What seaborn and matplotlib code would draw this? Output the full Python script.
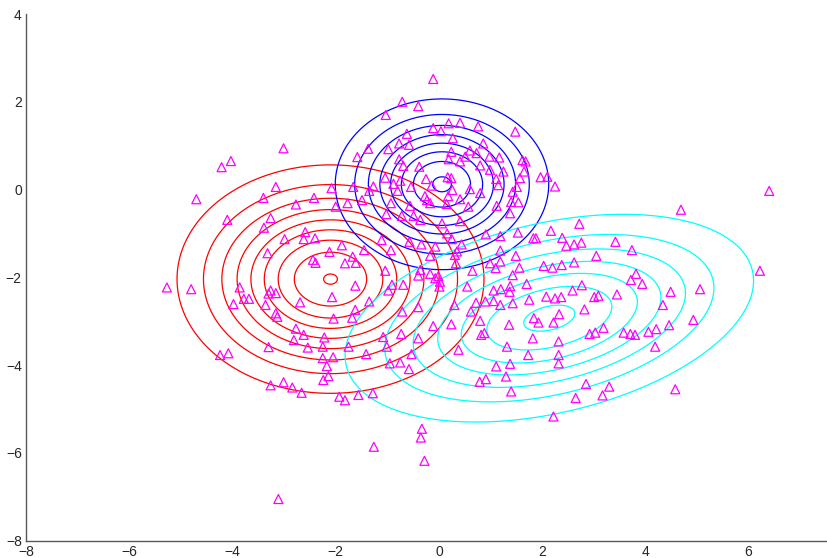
import numpy as np
import pandas as pd
import matplotlib
matplotlib.use("Agg")
import matplotlib.pyplot as plt
import seaborn as sns

# Observed samples
pts_x = [
    -3.01, -4.03, -4.21, -1.58, -3.16, -2.08, -1.66, -4.70, -3.40, -2.42, -2.77, -1.77, -2.00,
    -4.10, -3.26, -3.39, -2.59, -2.99, -2.62, -2.40, -1.88, -3.32, -2.12, -2.44, -2.39, -1.82,
    -1.67, -1.61, -5.27, -4.80, -3.86, -3.98, -3.78, -3.68, -3.26, -3.16, -3.30, -3.36, -2.69,
    -2.07, -1.62, -1.62, -1.68, -3.16, -3.13, -2.04, -2.77, -2.62, -2.81, -2.22, -1.75, -3.30,
    -2.54, -2.25,
    -4.24, -4.08, -2.25, -2.05, -2.17, -2.14, -2.24, -3.26, -3.01, -2.84, -2.66, -1.93, -1.82,
    -1.56, -3.11,
    -0.11, -0.71, -0.40, -1.03, 0.19, 0.41, 0.76, 1.48, -0.11, 0.04, -0.62, 0.27, -0.77, -0.58,
    0.86, -1.37, -0.98, 0.24, 0.60, 0.73, 0.19, 0.51, 0.98, 1.17, -0.77, 0.41, -0.69, -0.38,
    0.80, 0.99, 1.62, 1.68, 1.25, 1.65, 1.57, -1.04, -0.25, 0.17, 0.24, 1.11, 1.97, 2.10, 2.25,
    -1.27, -0.88, -0.75, -0.54, -0.14, 1.15, 1.51, 0.60, 0.26, -0.80, 0.80, 1.43, -1.35, -1.49,
    -0.27, -0.23, 0.18, 0.41, -0.93, -0.17, 0.15, 1.40, 1.54, 1.12, 0.57, -0.56,
    1.38, -1.02, -0.72, -0.49, -0.36, 0.06, 0.41, 0.16, 0.25, -1.11, -0.57, -0.34, -0.07, 0.44,
    -1.45, -0.93, 0.35, 0.91, 1.19, 1.53, 1.83, 1.88, 2.17, 1.19, 1.49, -0.17, 0.31, 0.99, 1.19,
    1.10, 1.56, 2.03, 2.20, 0.33, -1.04, -0.36, -0.40, -0.17, -0.07, -0.01, 0.02, 0.01, 0.65,
    1.43, -0.91, -0.69, -0.98, 0.55, 1.70, 1.06, 1.20, 1.38, 1.37, -1.35, -0.40, 0.30, 0.72,
    0.90, 1.06, 1.19, 1.43, 1.75, 2.08, 2.25, -0.71, 0.62, 0.80, 1.84, 1.93, 2.22, -0.11, 0.24,
    1.36, -1.08, -0.73, -0.40, 0.82, 0.88, 1.82, -1.01, 1.32, 2.32,
    -1.41, -0.53, -0.95, -0.75, -0.58, 0.38, 1.73, 2.32, 2.32, 1.11, 1.38, 1.30, 0.79, 0.91,
    1.40, -1.28, 2.22, -0.33, -0.35, -1.26, -0.28,
    4.19, 2.85, 3.30, 2.65, 3.17, 4.58,
    4.69, 2.72, 2.39, 2.47, 2.62, 2.76, 3.42, 3.74, 3.05, 2.38, 2.62, 3.82, 3.72, 3.94, 6.22,
    2.77, 2.59, 2.37, 3.01, 3.09, 3.45, 4.49, 5.06, 4.34, 2.82, 2.33, 4.93, 4.46, 3.19, 2.92,
    3.03, 3.58, 3.71, 3.80, 4.06, 4.21,
    6.40,
]
pts_y = [
    0.94, 0.65, 0.51, 0.74, 0.06, 0.03, 0.06, -0.22, -0.19, -0.19, -0.34, -0.31, -0.39,
    -0.69, -0.65, -0.87, -0.97, -1.13, -1.13, -1.11, -1.27, -1.45, -1.42, -1.60, -1.67, -1.68,
    -1.53, -1.67, -2.23, -2.27, -2.23, -2.61, -2.49, -2.49, -2.30, -2.36, -2.37, -2.63, -2.57,
    -2.45, -2.19, -2.74, -2.92, -2.82, -2.90, -2.94, -3.17, -3.31, -3.43, -3.37, -3.58, -3.59,
    -3.60, -3.58,
    -3.77, -3.73, -3.84, -3.82, -4.02, -4.25, -4.34, -4.46, -4.39, -4.51, -4.63, -4.72, -4.80,
    -4.68, -7.05,
    2.52, 2.00, 1.90, 1.70, 1.51, 1.52, 1.44, 1.32, 1.40, 1.33, 1.27, 1.17, 1.05, 1.02,
    1.05, 0.93, 0.92, 0.86, 0.89, 0.83, 0.69, 0.75, 0.75, 0.73, 0.69, 0.64, 0.54, 0.52,
    0.55, 0.45, 0.67, 0.64, 0.41, 0.41, 0.26, 0.27, 0.24, 0.28, 0.26, 0.24, 0.28, 0.29, 0.07,
    0.07, 0.13, 0.20, 0.06, 0.09, 0.10, 0.06, 0.01, -0.01, -0.03, -0.08, -0.05, -0.03, -0.24,
    -0.15, -0.24, -0.15, -0.22, -0.31, -0.31, -0.33, -0.28, -0.29, -0.37, -0.39, -0.37,
    -0.54, -0.56, -0.60, -0.60, -0.69, -0.77, -0.72, -1.00, -1.13, -1.15, -1.19, -1.25, -1.30, -1.25,
    -1.38, -1.38, -1.41, -1.02, -1.06, -0.98, -1.11, -1.11, -0.94, -1.39, -1.51, -1.51, -1.49, -1.68, -1.64,
    -1.79, -1.78, -1.74, -1.78, -1.68, -1.85, -1.83, -1.96, -1.92, -2.02, -1.97, -2.10, -2.21, -1.85,
    -1.95, -2.17, -2.17, -2.30, -2.21, -2.15, -2.30, -2.27, -2.20, -2.33, -2.55, -2.68, -2.63, -2.58,
    -2.55, -2.54, -2.63, -2.59, -2.51, -2.44, -2.48, -2.78, -2.78, -2.99, -2.93, -3.03, -3.03, -3.11, -3.07,
    -3.08, -3.36, -3.29, -3.39, -3.31, -3.27, -3.39, -3.58, -3.58, -3.46,
    -3.75, -3.75, -3.96, -3.94, -4.09, -3.65, -3.77, -3.77, -3.96, -4.03, -3.97, -4.26, -4.38, -4.32,
    -4.60, -4.64, -5.17, -5.45, -5.65, -5.86, -6.18,
    -3.58, -4.43, -4.49, -4.75, -4.69, -4.55,
    -0.46, -0.78, -1.10, -1.28, -1.25, -1.21, -1.19, -1.38, -1.51, -1.72, -1.66, -1.92, -2.06, -2.15, -1.85,
    -2.18, -2.30, -2.45, -2.45, -2.42, -2.39, -2.33, -2.27, -2.63, -2.73, -2.84, -2.97, -3.09, -3.15, -3.29,
    -3.26, -3.26, -3.29, -3.31, -3.24, -3.18,
    -0.03,
]

# Fitted mixture components: mean, standard deviations, correlation, colour
comp_mean = [(-2.10, -2.04), (0.06, 0.12), (2.14, -2.93)]
comp_sd = [(1.417, 1.24), (1.01, 0.95), (1.99, 1.19)]
comp_rho = [0.0, 0.0, 0.36]
comp_color = ["#ff0000", "#0000ff", "#00ffff"]
# contour spacing as a fraction of each component's peak density, and number of levels
comp_step = [1 / 9.04, 1 / 8.13, 1 / 7.22]
comp_nlev = [9, 8, 7]

sns.set_style("white")
plt.rcParams["font.family"] = ["Liberation Sans", "DejaVu Sans"]

fig = plt.figure(figsize=(8.27, 5.58), dpi=100)
ax = fig.add_axes([26 / 827, 17.3 / 558, 801 / 827, 526.7 / 558])

# Density contours of each Gaussian component
gx = np.linspace(-8, 7.6, 700)
gy = np.linspace(-8, 4, 540)
GX, GY = np.meshgrid(gx, gy)
for m, sd, rho, col, step, nlev in zip(comp_mean, comp_sd, comp_rho,
                                       comp_color, comp_step, comp_nlev):
    sx, sy = sd
    cov = np.array([[sx * sx, rho * sx * sy], [rho * sx * sy, sy * sy]])
    inv = np.linalg.inv(cov)
    dx = GX - m[0]
    dy = GY - m[1]
    q = inv[0, 0] * dx * dx + 2 * inv[0, 1] * dx * dy + inv[1, 1] * dy * dy
    peak = 1.0 / (2 * np.pi * np.sqrt(np.linalg.det(cov)))
    Z = peak * np.exp(-0.5 * q)
    levels = [peak * step * k for k in range(1, nlev + 1)]
    ax.contour(GX, GY, Z, levels=levels, colors=col, linewidths=0.9)

df = pd.DataFrame({"x": pts_x, "y": pts_y})
sns.scatterplot(data=df, x="x", y="y", marker="^", s=42, ax=ax, zorder=3)
coll = ax.collections[-1]
coll.set_facecolor("none")
coll.set_edgecolor("#ff00ff")
coll.set_linewidth(0.9)

ax.set_xlim(-8, 7.52)
ax.set_ylim(-8, 4)
ax.set_xticks(np.arange(-8, 7, 2))
ax.set_yticks(np.arange(-8, 5, 2))
ax.set_xlabel("")
ax.set_ylabel("")
for side in ("top", "right"):
    ax.spines[side].set_visible(False)
for side in ("left", "bottom"):
    ax.spines[side].set_color("0.35")
    ax.spines[side].set_linewidth(1.0)
ax.tick_params(direction="in", length=4.5, width=0.8, color="black",
               labelsize=10, pad=3)

fig.savefig("out.png", dpi=100)
